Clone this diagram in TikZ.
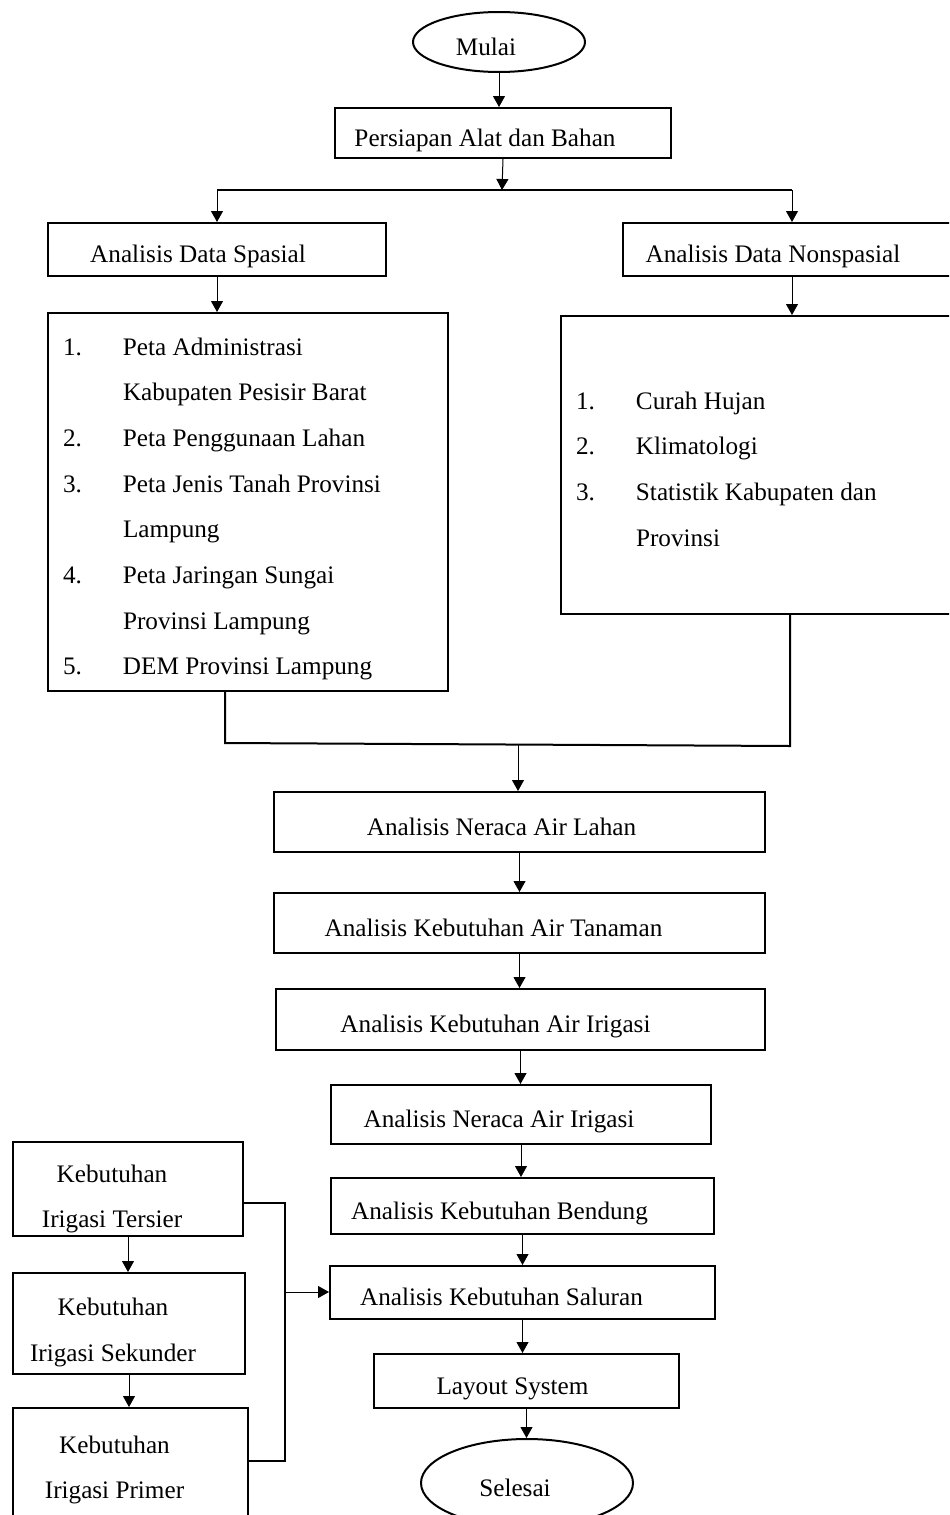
\documentclass[tikz,border=0pt]{standalone}
\usepackage{fontspec}
\setmainfont{Liberation Serif}
\usetikzlibrary{arrows.meta,shapes.geometric}

\newcommand{\rgap}[1]{\hspace*{#1pt}}
\newcommand{\topstrut}[1]{\rule{0pt}{#1pt}}
\newcommand{\listno}[1]{\makebox[30pt][l]{#1}}
\newcommand{\listin}{\hspace*{30pt}}

\tikzset{
  box/.style={draw, line width=1pt, rectangle, anchor=north west, inner sep=0pt},
  step box/.style={box, text height=16pt, text depth=2.7pt},
  listbox/.style={box, align=flush left, inner xsep=7.5pt},
  oval/.style={draw, line width=1pt, ellipse, inner sep=0pt, text height=16pt, text depth=2.7pt},
  arrow/.style={line width=0.5pt, -{Triangle[length=5.5pt,width=6pt]}},
  link/.style={line width=1pt},
}

\begin{document}
\begin{tikzpicture}[x=0.5pt, y=-0.5pt, font=\fontsize{12.6}{22.85}\selectfont]
  \useasboundingbox (0,0) rectangle (949,1515);
  \clip (0,0) rectangle (949,1515);

  \node[oval, minimum width=86pt, minimum height=30pt] (mulai) at (499,42) {Mulai\rgap{13}};
  \node[step box, minimum width=168pt, minimum height=25pt] (persiapan) at (334,107) {Persiapan Alat dan Bahan\rgap{18}};

  \node[step box, minimum width=169pt, minimum height=26.5pt] (spasial) at (47,222) {Analisis Data Spasial\rgap{19}};
  \node[step box, minimum width=169pt, minimum height=26.5pt] (nonspasial) at (622,222) {Analisis Data Nonspasial\rgap{19}};

  \node[listbox, text width=185pt, minimum height=189pt] (spasialdata) at (47,312)
    {\topstrut{15.7}\listno{1.}Peta Administrasi\\\listin Kabupaten Pesisir Barat\\
     \listno{2.}Peta Penggunaan Lahan\\
     \listno{3.}Peta Jenis Tanah Provinsi\\\listin Lampung\\
     \listno{4.}Peta Jaringan Sungai\\\listin Provinsi Lampung\\
     \listno{5.}DEM Provinsi Lampung};
  \node[listbox, text width=215pt, minimum height=149pt] (nonspasialdata) at (560,315)
    {\topstrut{12.7}\listno{1.}Curah Hujan\\
     \listno{2.}Klimatologi\\
     \listno{3.}Statistik Kabupaten dan\\\listin Provinsi};

  \node[step box, minimum width=245.5pt, minimum height=30pt] (lahan) at (273,791) {Analisis Neraca Air Lahan\rgap{18}};
  \node[step box, minimum width=245.5pt, minimum height=30pt] (tanaman) at (273,892) {Analisis Kebutuhan Air Tanaman\rgap{26}};
  \node[step box, minimum width=244.5pt, minimum height=30.5pt] (irigasi) at (275,988) {Analisis Kebutuhan Air Irigasi\rgap{25}};
  \node[step box, minimum width=190pt, minimum height=29.5pt] (neraca) at (330,1084) {Analisis Neraca Air Irigasi\rgap{22}};
  \node[step box, minimum width=191.5pt, minimum height=28pt] (bendung) at (330,1177) {Analisis Kebutuhan Bendung\rgap{23}};
  \node[step box, minimum width=192.5pt, minimum height=26.5pt] (saluran) at (329,1265) {Analisis Kebutuhan Saluran\rgap{21}};
  \node[step box, minimum width=152.5pt, minimum height=27pt] (layout) at (373,1353) {Layout System\rgap{14}};
  \node[oval, minimum width=106pt, minimum height=44pt] (selesai) at (527,1483) {Selesai\rgap{12}};

  \node[box, align=center, minimum width=115pt, minimum height=47pt] (tersier) at (12,1141) {\topstrut{18.7}Kebutuhan\rgap{16}\\Irigasi Tersier\rgap{16}};
  \node[box, align=center, minimum width=116pt, minimum height=50.5pt] (sekunder) at (12,1272) {\topstrut{18}Kebutuhan\rgap{16}\\Irigasi Sekunder\rgap{16}};
  \node[box, align=center, minimum width=117.5pt, minimum height=60pt] (primer) at (12,1407) {\topstrut{10.7}Kebutuhan\rgap{16}\\Irigasi Primer\rgap{16}};

  \coordinate (split) at (502,190);
  \coordinate (joinL) at (225,743);
  \coordinate (joinR) at (790,746);
  \coordinate (join) at (518,744);
  \coordinate (feed) at (285,1292);

  \draw[arrow] (mulai.south) -- (mulai.south |- persiapan.north);
  \draw[arrow] (persiapan.south) -- (split);
  \draw[link] (spasial.north |- split) -- (nonspasial.north |- split);
  \draw[arrow] (spasial.north |- split) -- (spasial.north);
  \draw[arrow] (nonspasial.north |- split) -- (nonspasial.north);
  \draw[arrow] (spasial.south) -- (spasial.south |- spasialdata.north);
  \draw[arrow] (nonspasial.south) -- (nonspasial.south |- nonspasialdata.north);

  \draw[link] (joinL |- spasialdata.south) -- (joinL) -- (joinR) -- (joinR |- nonspasialdata.south);
  \draw[arrow] (join) -- (join |- lahan.north);

  \foreach \a/\b in {lahan/tanaman, tanaman/irigasi, irigasi/neraca, neraca/bendung,
                     bendung/saluran, saluran/layout, layout/selesai}
    \draw[arrow] (\a.south) -- (\a.south |- \b.north);

  \draw[arrow] (tersier.south) -- (tersier.south |- sekunder.north);
  \draw[arrow] (sekunder.south) -- (sekunder.south |- primer.north);
  \draw[link] ([yshift=-7pt]tersier.east) -| (feed) |- ([yshift=3.5pt]primer.east);
  \draw[arrow] (feed) -- (feed -| saluran.west);
\end{tikzpicture}
\end{document}
